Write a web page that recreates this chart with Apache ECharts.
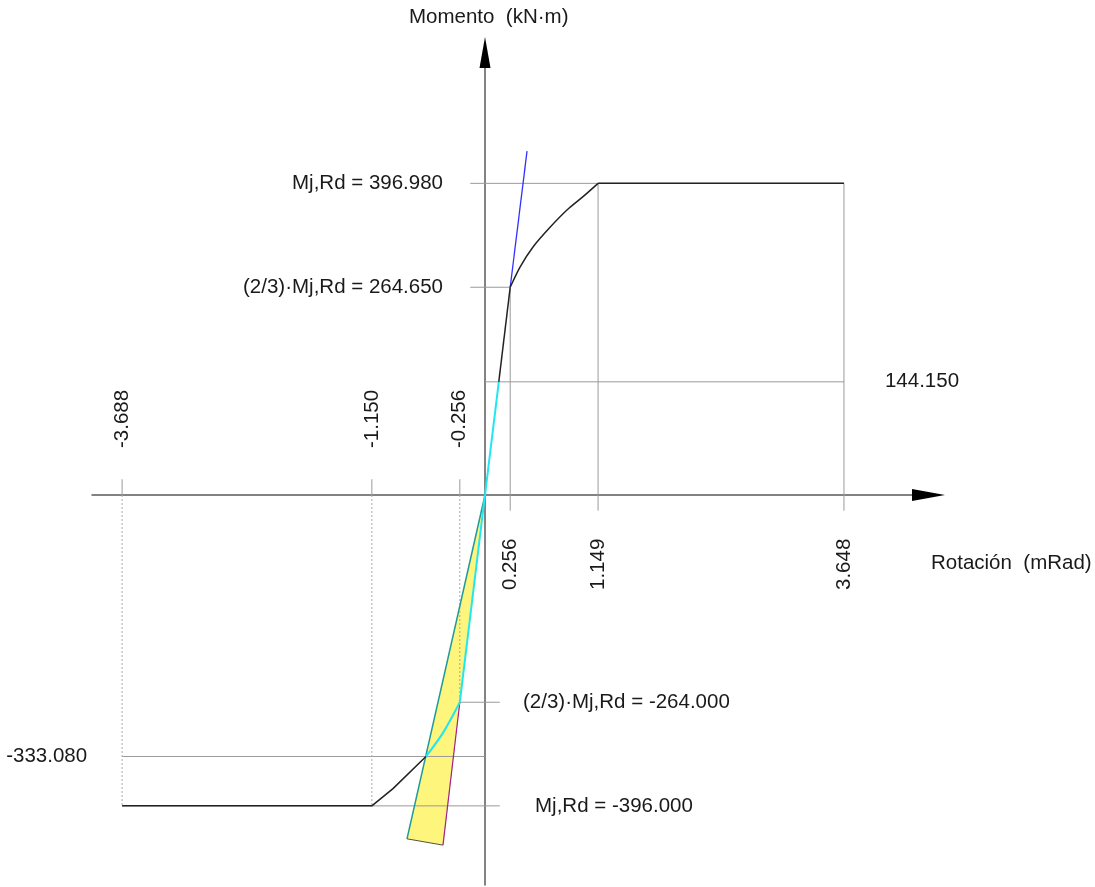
<!DOCTYPE html>
<html><head><meta charset="utf-8">
<script src="https://cdn.jsdelivr.net/npm/echarts@6/dist/echarts.min.js"></script>
<style>html,body{margin:0;padding:0;background:#fff}#c{width:1095px;height:887px}</style>
</head><body><div id="c"></div>
<script>
// ---- data ----
const xTicksNeg = [-3.688, -1.150, -0.256];
const xTicksPos = [0.256, 1.149, 3.648];
const momentValues = [396.98, 264.65, 144.15, -264.0, -333.08, -396.0];
const momentLabels = ['Mj,Rd = 396.980', '(2/3)\u00b7Mj,Rd = 264.650', '144.150',
  '(2/3)\u00b7Mj,Rd = -264.000', '-333.080', 'Mj,Rd = -396.000'];
const curveInitPos = [[0, 0], [0.14, 144.15], [0.256, 264.65]];
const curveKnee = [[0.256, 264.65], [0.356, 290.4], [0.488, 316], [0.661, 341],
  [0.833, 363], [0.996, 380], [1.149, 396.98]];
const plateauPos = [[1.149, 396.98], [3.648, 396.98]];
const stiffLine = [[0.256, 264.65], [0.427, 438]];
const curveInitNeg = [[0, 0], [-0.256, -264.0], [-0.427, -303], [-0.6, -333.08]];
const curveNeg = [[-0.6, -333.08], [-0.935, -374], [-1.15, -396.0], [-3.688, -396.0]];
const bandPts = [[0, 0], [-0.793, -438], [-0.427, -446]];
const xRange = [-3.994, 4.502];
const yRange = [-496.8, 564.3];

// ---- layout ----
const FONT = '20.5px "Liberation Sans", Arial, sans-serif';
const TX = 0.15, TY = 20; // tick extensions in axis units
const guides = [
  [-TX, momentValues[0], xTicksPos[2], momentValues[0], 0],
  [-TX, momentValues[1], xTicksPos[0], momentValues[1], 0],
  [0, momentValues[2], xTicksPos[2], momentValues[2], 0],
  [xTicksNeg[2], momentValues[3], TX, momentValues[3], 0],
  [xTicksNeg[0], momentValues[4], 0, momentValues[4], 0],
  [xTicksNeg[0], momentValues[5], TX, momentValues[5], 0],
  [xTicksPos[0], momentValues[1], xTicksPos[0], -TY, 0],
  [xTicksPos[1], momentValues[0], xTicksPos[1], -TY, 0],
  [xTicksPos[2], momentValues[0], xTicksPos[2], -TY, 0],
  [xTicksNeg[0], TY, xTicksNeg[0], 0, 0],
  [xTicksNeg[1], TY, xTicksNeg[1], 0, 0],
  [xTicksNeg[2], TY, xTicksNeg[2], 0, 0],
  [xTicksNeg[0], 0, xTicksNeg[0], momentValues[5], 1],
  [xTicksNeg[1], 0, xTicksNeg[1], momentValues[5], 1],
  [xTicksNeg[2], 0, xTicksNeg[2], momentValues[3], 1]
];
const momentAnchor = [
  [0, -42, 'right'], [0, -42, 'right'], [xTicksPos[2], 41, 'left'],
  [0, 38, 'left'], [xTicksNeg[0], -35, 'right'], [0, 50, 'left']
];
const textItems = [];
momentValues.forEach((v, i) => textItems.push([momentAnchor[i][0], v, i, 0]));
xTicksNeg.forEach((v, i) => textItems.push([v, 0, i, 1]));
xTicksPos.forEach((v, i) => textItems.push([v, 0, i, 2]));

function lineSeries(data, color, width, z, smooth) {
  return { type: 'line', data: data, showSymbol: false, symbol: 'none', silent: true,
    smooth: smooth || false,
    lineStyle: { color: color, width: width }, z: z, animation: false };
}

const chart = echarts.init(document.getElementById('c'), null, { renderer: 'canvas' });
chart.setOption({
  animation: false,
  backgroundColor: '#ffffff',
  grid: { left: 92, right: 167, top: 52, bottom: 2 },
  xAxis: {
    type: 'value', min: xRange[0], max: xRange[1],
    axisLine: { onZero: true, lineStyle: { color: '#5a5a5a', width: 1.5 } },
    axisTick: { show: false }, axisLabel: { show: false }, splitLine: { show: false }
  },
  yAxis: {
    type: 'value', min: yRange[0], max: yRange[1],
    axisLine: { onZero: true, lineStyle: { color: '#5a5a5a', width: 1.5 } },
    axisTick: { show: false }, axisLabel: { show: false }, splitLine: { show: false }
  },
  graphic: [
    { type: 'text', left: 409, top: 7, style: { text: 'Momento  (kN\u00b7m)', font: FONT, fill: '#1a1a1a' } },
    { type: 'text', left: 931, top: 553, style: { text: 'Rotación  (mRad)', font: FONT, fill: '#1a1a1a' } }
  ],
  series: [
    { type: 'custom', silent: true, z: 1, data: [0],
      renderItem: function (params, api) {
        const pts = bandPts.map(p => api.coord(p));
        return { type: 'polygon', shape: { points: pts }, style: { fill: '#fdf57c', stroke: 'none' } };
      } },
    { type: 'custom', silent: true, z: 2, data: guides,
      renderItem: function (params, api) {
        const a = api.coord([api.value(0), api.value(1)]);
        const b = api.coord([api.value(2), api.value(3)]);
        const dotted = api.value(4) === 1;
        return { type: 'line', shape: { x1: a[0], y1: a[1], x2: b[0], y2: b[1] },
          style: { stroke: dotted ? '#a8a8a8' : '#9a9a9a', lineWidth: 1, lineDash: dotted ? [2, 2] : null } };
      } },
    // axis arrows
    { type: 'custom', silent: true, z: 3, data: [0],
      renderItem: function (params, api) {
        const ex = api.coord([xRange[1], 0]);
        const ey = api.coord([0, yRange[1]]);
        return { type: 'group', children: [
          { type: 'polygon', shape: { points: [[ex[0] + 17, ex[1]], [ex[0] - 16, ex[1] - 6], [ex[0] - 16, ex[1] + 6]] },
            style: { fill: '#000' } },
          { type: 'polygon', shape: { points: [[ey[0], ey[1] - 15], [ey[0] - 5.5, ey[1] + 16], [ey[0] + 5.5, ey[1] + 16]] },
            style: { fill: '#000' } }
        ] };
      } },
    lineSeries([bandPts[0], bandPts[1]], '#1f9a9a', 1.5, 3),
    lineSeries([bandPts[1], bandPts[2]], '#555533', 1, 3),
    lineSeries([curveInitNeg[1], bandPts[2]], '#a0208c', 1.2, 3),
    lineSeries(stiffLine, '#3030ff', 1.3, 4),
    lineSeries(curveInitPos.slice(1), '#222222', 1.5, 4),
    lineSeries(curveKnee, '#222222', 1.5, 4, 0.3),
    lineSeries(plateauPos, '#222222', 1.5, 4),
    lineSeries(curveNeg, '#222222', 1.5, 4),
    lineSeries(curveInitPos.slice(0, 2), '#22e6f0', 2, 5),
    lineSeries(curveInitNeg.slice(0, 2), '#22e6f0', 2, 5),
    lineSeries(curveInitNeg.slice(1), '#22e6f0', 2, 5, 0.3),
    { type: 'custom', silent: true, z: 6, data: textItems,
      renderItem: function (params, api) {
        const kind = api.value(3), idx = api.value(2);
        const p = api.coord([api.value(0), api.value(1)]);
        if (kind === 0) {
          const a = momentAnchor[idx];
          return { type: 'text', x: p[0] + a[1], y: p[1],
            style: { text: momentLabels[idx], font: FONT, fill: '#1a1a1a', align: a[2], verticalAlign: 'middle' } };
        }
        const v = kind === 1 ? xTicksNeg[idx] : xTicksPos[idx];
        return { type: 'text', x: p[0], y: p[1] + (kind === 1 ? -47 : 95), rotation: Math.PI / 2,
          style: { text: v.toFixed(3), font: FONT, fill: '#1a1a1a', align: 'left', verticalAlign: 'middle' } };
      } }
  ]
});
</script>
</body></html>
